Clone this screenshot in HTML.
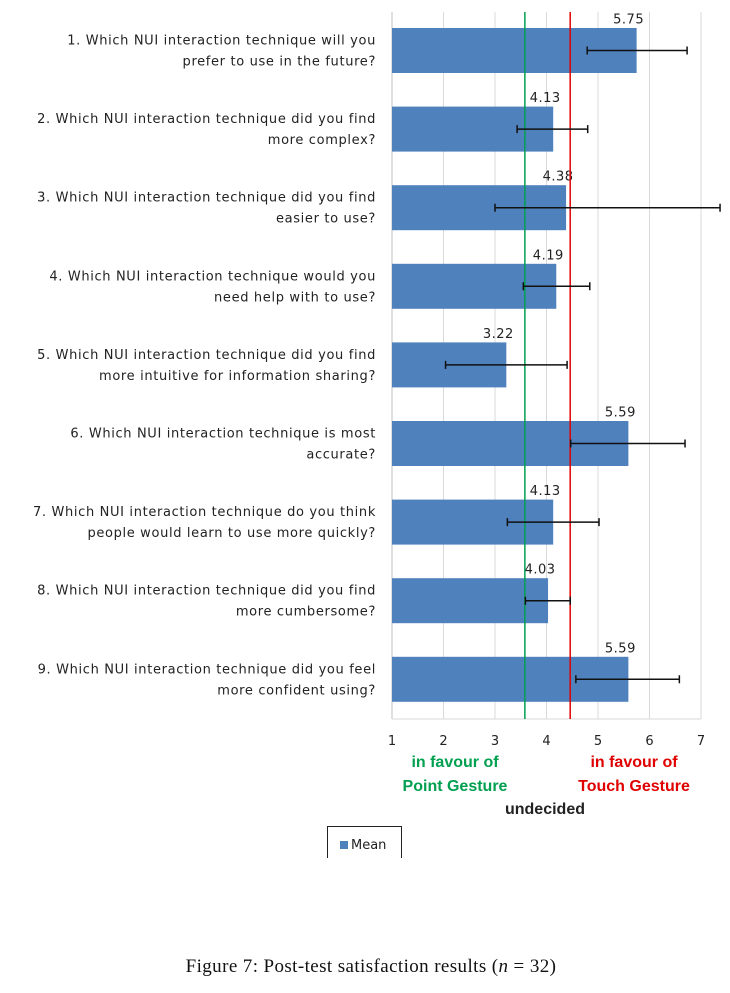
<!DOCTYPE html>
<html><head><meta charset="utf-8"><style>
body{margin:0;background:#fff;width:730px;height:988px;overflow:hidden;font-family:"Liberation Sans",sans-serif;}
</style></head><body>
<svg width="730" height="988" id="c" xmlns="http://www.w3.org/2000/svg"></svg>
<script>
const questions=[["1. Which NUI interaction technique will you","prefer to use in the future?"],["2. Which NUI interaction technique did you find","more complex?"],["3. Which NUI interaction technique did you find","easier to use?"],["4. Which NUI interaction technique would you","need help with to use?"],["5. Which NUI interaction technique did you find","more intuitive for information sharing?"],["6. Which NUI interaction technique is most","accurate?"],["7. Which NUI interaction technique do you think","people would learn to use more quickly?"],["8. Which NUI interaction technique did you find","more cumbersome?"],["9. Which NUI interaction technique did you feel","more confident using?"]];
const means=[5.75,4.13,4.38,4.19,3.22,5.59,4.13,4.03,5.59];
const errLow=[4.79,3.43,3.0,3.55,2.04,4.47,3.24,3.59,4.57];
const errHigh=[6.73,4.80,7.37,4.84,4.40,6.69,5.02,4.46,6.58];
const ticks=[1,2,3,4,5,6,7];
const greenLine=3.58, redLine=4.46;
const NS="http://www.w3.org/2000/svg",svg=document.getElementById('c');
const x=v=>392+(v-1)*51.5;
const yc=i=>50.5+i*78.6;
const F='DejaVu Sans, sans-serif';
function el(t,a,txt){const e=document.createElementNS(NS,t);for(const k in a)e.setAttribute(k,a[k]);if(txt!=null)e.textContent=txt;svg.appendChild(e);return e;}
ticks.forEach(t=>{const g=el('line',{x1:x(t),x2:x(t),y1:12,y2:719,stroke:t===1?'#bfbfbf':'#d9d9d9','stroke-width':1});

const l=el('text',{x:x(t),y:745,'text-anchor':'middle','font-size':13,'font-family':F,fill:'#222'},t);
});
const base=el('line',{x1:392,x2:701,y1:719,y2:719,stroke:'#d9d9d9'});

means.forEach((m,i)=>{const c=yc(i);
const b=el('rect',{x:x(1),y:c-22.5,width:x(m)-x(1),height:45,fill:'#4f81bd'});

const v=el('text',{x:x(m)-8,y:c-27,'text-anchor':'middle','font-size':13,'font-family':F,'letter-spacing':0.5,fill:'#222'},m.toFixed(2));

const q=questions[i];
q.forEach((ln,j)=>{const t=el('text',{x:376,y:c-6+j*21,'text-anchor':'end','font-size':13,'font-family':F,'letter-spacing':0.65,fill:'#222'},ln);
});
});
const gl=el('line',{x1:x(greenLine),x2:x(greenLine),y1:12,y2:719,stroke:'#00a050','stroke-width':1.5});

const rl=el('line',{x1:x(redLine),x2:x(redLine),y1:12,y2:719,stroke:'#e00000','stroke-width':1.5});

means.forEach((m,i)=>{const c=yc(i),a=x(errLow[i]),b=x(errHigh[i]);
const e=el('path',{d:`M${a},${c}H${b}M${a},${c-4}V${c+4}M${b},${c-4}V${c+4}`,stroke:'#111','stroke-width':1.5,fill:'none'});
});
const ann=[["in favour of",455,767,'#00a050'],["Point Gesture",455,791,'#00a050'],["in favour of",634,767,'#e00000'],["Touch Gesture",634,791,'#e00000'],["undecided",545,814,'#222']];
ann.forEach(a=>{const t=el('text',{x:a[1],y:a[2],'text-anchor':'middle','font-size':16,'font-weight':'bold',fill:a[3]},a[0]);
});
const lg=el('path',{d:'M327.5,858V826.5H401.5V858',stroke:'#222',fill:'none'});

const lsw=el('rect',{x:340,y:841,width:8,height:8,fill:'#4f81bd'});

const lt=el('text',{x:351,y:849,'font-size':13,'font-family':F,fill:'#222'},'Mean');

const cap=el('text',{x:371,y:972,'text-anchor':'middle','font-size':19,'font-family':'Liberation Serif, serif','letter-spacing':0.4,fill:'#111'});

cap.innerHTML='Figure 7: Post-test satisfaction results (<tspan font-style="italic">n</tspan> = 32)';
</script>
</body></html>
